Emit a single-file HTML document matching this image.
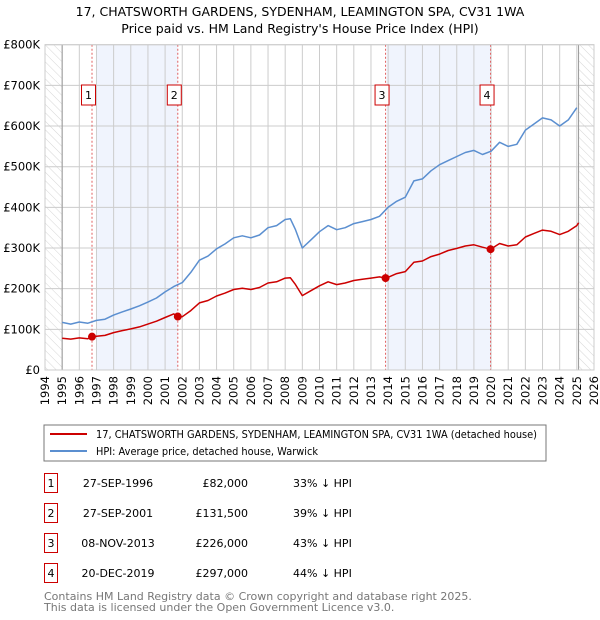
<!DOCTYPE html>
<html><head><meta charset="utf-8"><style>
body{margin:0;background:#fff;font-family:"DejaVu Sans","Liberation Sans",sans-serif;}
svg{display:block}
</style></head><body>
<svg width="600" height="620" viewBox="0 0 600 620" xmlns="http://www.w3.org/2000/svg">
<defs><pattern id="hatch" width="6" height="6" patternUnits="userSpaceOnUse" patternTransform="rotate(-45)"><line x1="0" y1="0" x2="0" y2="6" stroke="#ccc" stroke-width="0.8"/></pattern></defs>
<text x="300" y="16" text-anchor="middle" font-size="12.5" fill="#000">17, CHATSWORTH GARDENS, SYDENHAM, LEAMINGTON SPA, CV31 1WA</text>
<text x="300" y="33" text-anchor="middle" font-size="12.5" fill="#000">Price paid vs. HM Land Registry's House Price Index (HPI)</text>
<g id="plot"></g>
<g id="axes"></g>
<rect x="44" y="425" width="502" height="36" fill="#fff" stroke="#777" stroke-width="1"/>
<line x1="50" y1="434" x2="87" y2="434" stroke="#cc0000" stroke-width="2"/>
<text x="96" y="438" font-size="11" textLength="441" lengthAdjust="spacingAndGlyphs">17, CHATSWORTH GARDENS, SYDENHAM, LEAMINGTON SPA, CV31 1WA (detached house)</text>
<line x1="50" y1="451" x2="87" y2="451" stroke="#5b8fd0" stroke-width="2"/>
<text x="96" y="455" font-size="11" textLength="222" lengthAdjust="spacingAndGlyphs">HPI: Average price, detached house, Warwick</text>
<g id="table" font-size="11"></g>
<text x="44" y="600" font-size="11" fill="#777">Contains HM Land Registry data © Crown copyright and database right 2025.</text>
<text x="44" y="611" font-size="11" fill="#777">This data is licensed under the Open Government Licence v3.0.</text>
</svg>
<script>
const hpiYears=[1995,1995.5,1996,1996.5,1997,1997.5,1998,1998.5,1999,1999.5,2000,2000.5,2001,2001.5,2002,2002.5,2003,2003.5,2004,2004.5,2005,2005.5,2006,2006.5,2007,2007.5,2008,2008.3,2008.6,2009,2009.5,2010,2010.5,2011,2011.5,2012,2012.5,2013,2013.5,2014,2014.5,2015,2015.5,2016,2016.5,2017,2017.5,2018,2018.5,2019,2019.5,2020,2020.5,2021,2021.5,2022,2022.5,2023,2023.5,2024,2024.5,2025];
const hpiValues=[117,113,118,115,122,125,135,143,150,158,167,177,192,205,215,240,270,280,298,310,325,330,325,332,350,355,370,372,345,300,320,340,355,345,350,360,365,370,378,400,415,425,465,470,490,505,515,525,535,540,530,538,560,550,555,590,605,620,615,600,615,645];
const redYears=[1995,1995.5,1996,1996.5,1996.75,1997,1997.5,1998,1998.5,1999,1999.5,2000,2000.5,2001,2001.5,2001.75,2002,2002.5,2003,2003.5,2004,2004.5,2005,2005.5,2006,2006.5,2007,2007.5,2008,2008.3,2008.6,2009,2009.5,2010,2010.5,2011,2011.5,2012,2012.5,2013,2013.5,2013.85,2014,2014.5,2015,2015.5,2016,2016.5,2017,2017.5,2018,2018.5,2019,2019.5,2019.97,2020.5,2021,2021.5,2022,2022.5,2023,2023.5,2024,2024.5,2025,2025.1];
const redValues=[78,76,79,77,82,83,85,92,97,101,106,113,120,129,138,131.5,131,146,165,171,182,189,198,201,198,203,214,217,226,227,210,183,195,207,217,210,214,220,223,226,229,226,228,237,242,265,268,279,285,294,299,305,308,302,297,311,305,308,327,336,344,341,333,341,355,362];
const saleYears=[1996.74,2001.74,2013.85,2019.97];
const salePrices=[82,131.5,226,297];
const saleDates=["27-SEP-1996","27-SEP-2001","08-NOV-2013","20-DEC-2019"];
const salePriceLabels=["£82,000","£131,500","£226,000","£297,000"];
const salePcts=["33% ↓ HPI","39% ↓ HPI","43% ↓ HPI","44% ↓ HPI"];
const yTicks=[0,100,200,300,400,500,600,700,800];
const yTickLabels=["£0","£100K","£200K","£300K","£400K","£500K","£600K","£700K","£800K"];
const xTicks=[1994,1995,1996,1997,1998,1999,2000,2001,2002,2003,2004,2005,2006,2007,2008,2009,2010,2011,2012,2013,2014,2015,2016,2017,2018,2019,2020,2021,2022,2023,2024,2025,2026];

const NS="http://www.w3.org/2000/svg";
const L=45,R=594,T=44.7,B=370;
const X=y=>L+(y-1994)*(R-L)/32;
const Y=v=>B-v*(B-T)/800;
function mk(tag,attrs,parent){const e=document.createElementNS(NS,tag);for(const k in attrs)e.setAttribute(k,attrs[k]);parent.appendChild(e);return e;}
const plot=document.getElementById('plot'),axes=document.getElementById('axes'),table=document.getElementById('table');

for(const [a,b] of [[1996.98,saleYears[1]],[saleYears[2]+0.05,saleYears[3]]]){
  const r=mk('rect',{x:X(a),y:T,width:X(b)-X(a),height:B-T,fill:'#f0f4fd'},plot);
  
  
}
for(const [a,b] of [[1994,1995],[2025.1,2026]]){
  const r=mk('rect',{x:X(a),y:T,width:X(b)-X(a),height:B-T,fill:'url(#hatch)'},plot);
  
  
}
xTicks.forEach(t=>{const l=mk('line',{x1:X(t),x2:X(t),y1:T,y2:B,stroke:'#ccc','stroke-width':1},plot);
  
  });
yTicks.forEach(t=>{const l=mk('line',{x1:L,x2:R,y1:Y(t),y2:Y(t),stroke:'#ccc','stroke-width':1},plot);
  
  });
[1995,2025.1].forEach(t=>{const l=mk('line',{x1:X(t),x2:X(t),y1:T,y2:B,stroke:'#999','stroke-width':1},plot);
  
  });
saleYears.forEach((s,i)=>{
  const l=mk('line',{x1:X(s),x2:X(s),y1:T,y2:B,stroke:'#e06060','stroke-width':1,'stroke-dasharray':'2,2'},plot);
  
  
  const g=mk('g',{},plot);
  
  
  mk('rect',{x:X(s)-10.5,y:85,width:14,height:20,fill:'#fff',stroke:'#cc0000'},g);
  const t=mk('text',{x:X(s)-3.5,y:99,'text-anchor':'middle','font-size':11},g);t.textContent=i+1;
});
function path(xs,vs,color,name){
  const d=xs.map((x,i)=>(i?'L':'M')+X(x).toFixed(1)+','+Y(vs[i]).toFixed(1)).join('');
  const p=mk('path',{d:d,fill:'none',stroke:color,'stroke-width':1.5,'stroke-linejoin':'round'},plot);
  
  
}
path(hpiYears,hpiValues,'#5b8fd0','hpi-line');
path(redYears,redValues,'#cc0000','property-line');
saleYears.forEach((s,i)=>{const c=mk('circle',{cx:X(s),cy:Y(salePrices[i]),r:4,fill:'#cc0000'},plot);
  
  });
mk('rect',{x:L,y:T,width:R-L,height:B-T,fill:'none',stroke:'#ccc'},plot);
yTicks.forEach((t,i)=>{const e=mk('text',{x:40,y:Y(t)+4,'text-anchor':'end','font-size':11.5},axes);e.textContent=yTickLabels[i];
  
  });
xTicks.forEach(t=>{const e=mk('text',{x:X(t)+4,y:376,'text-anchor':'end','font-size':11.5,transform:`rotate(-90 ${X(t)+4} 376)`},axes);e.textContent=t;
  
  });
const rowY=[483,513,543,573];
saleYears.forEach((s,i)=>{
  const g=mk('g',{},table);
  
  
  mk('rect',{x:44.5,y:rowY[i]-9.5,width:13,height:19,fill:'#fff',stroke:'#cc0000'},g);
  let t=mk('text',{x:51,y:rowY[i]+4,'text-anchor':'middle'},g);t.textContent=i+1;
  t=mk('text',{x:118,y:rowY[i]+4,'text-anchor':'middle'},g);t.textContent=saleDates[i];
  t=mk('text',{x:248,y:rowY[i]+4,'text-anchor':'end'},g);t.textContent=salePriceLabels[i];
  t=mk('text',{x:293,y:rowY[i]+4},g);t.textContent=salePcts[i];
});
</script>
</body></html>
